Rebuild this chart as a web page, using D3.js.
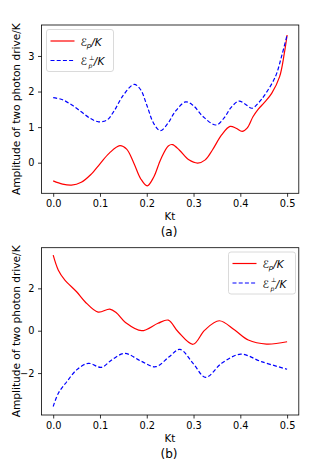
<!DOCTYPE html>
<html lang="en">
<head>
<meta charset="utf-8">
<title>Amplitude of two photon drive</title>
<script src="https://d3js.org/d3.v7.min.js"></script>
<style>
  body { margin: 0; background: #fff; }
  text { font-family: "DejaVu Sans", sans-serif; }
</style>
</head>
<body>
<div id="chart"></div>
<script>

// Kt values and curves, panel (a)
var ktA_par  = [0, 0.02, 0.039, 0.06, 0.08, 0.1, 0.12, 0.1425, 0.157, 0.172, 0.187, 0.201, 0.215, 0.23, 0.246, 0.255, 0.27, 0.29, 0.309, 0.325, 0.34, 0.36, 0.378, 0.391, 0.404, 0.415, 0.427, 0.438, 0.452, 0.467, 0.484, 0.494, 0.5];
var epsA_par = [-0.51, -0.6, -0.63, -0.55, -0.34, -0.03, 0.27, 0.48, 0.38, 0.0, -0.45, -0.65, -0.4, 0.1, 0.47, 0.51, 0.35, 0.08, -0.01, 0.08, 0.35, 0.78, 1.02, 0.97, 0.88, 0.98, 1.29, 1.5, 1.7, 1.95, 2.42, 3.07, 3.59];

var ktA_perp  = [0, 0.02, 0.04, 0.06, 0.08, 0.097, 0.115, 0.13, 0.15, 0.173, 0.187, 0.2, 0.215, 0.229, 0.245, 0.26, 0.283, 0.3, 0.32, 0.348, 0.365, 0.38, 0.397, 0.41, 0.425, 0.44, 0.452, 0.475, 0.488, 0.5];
var epsA_perp = [1.83, 1.77, 1.62, 1.43, 1.24, 1.15, 1.2, 1.45, 1.9, 2.2, 2.05, 1.62, 1.1, 0.9, 1.1, 1.42, 1.71, 1.6, 1.3, 1.06, 1.25, 1.55, 1.73, 1.65, 1.53, 1.7, 1.9, 2.42, 2.98, 3.59];

// panel (b)
var ktB_par  = [0, 0.011, 0.025, 0.05, 0.068, 0.096, 0.121, 0.135, 0.155, 0.189, 0.224, 0.246, 0.267, 0.299, 0.324, 0.355, 0.388, 0.417, 0.456, 0.5];
var epsB_par = [3.57, 2.86, 2.39, 1.84, 1.37, 0.88, 1.02, 0.85, 0.38, 0.0, 0.35, 0.5, -0.05, -0.64, 0.03, 0.47, 0.03, -0.44, -0.63, -0.52];

var ktB_perp  = [0, 0.011, 0.029, 0.05, 0.075, 0.103, 0.125, 0.153, 0.187, 0.219, 0.248, 0.271, 0.299, 0.326, 0.36, 0.401, 0.445, 0.5];
var epsB_perp = [-3.58, -2.95, -2.41, -1.85, -1.54, -1.73, -1.38, -1.07, -1.43, -1.7, -1.23, -0.88, -1.54, -2.2, -1.54, -1.11, -1.46, -1.82];

var xTicks  = [0, 0.1, 0.2, 0.3, 0.4, 0.5];
var yTicksA = [0, 1, 2, 3];
var yTicksB = [-2, 0, 2];

var svg = d3.select("#chart").append("svg")
  .attr("width", 332)
  .attr("height", 461);

function zip(xs, ys) {
  return xs.map(function (k, i) { return [k, ys[i]]; });
}

function panel(opt) {
  var x = d3.scaleLinear().domain([-0.025, 0.525]).range([41.5, 298.8]);
  var y = d3.scaleLinear().domain(opt.ydomain).range([opt.bottom, opt.top]);

  var g = svg.append("g");

  // x axis
  g.append("g")
    .attr("transform", "translate(0," + opt.bottom + ")")
    .call(d3.axisBottom(x).tickValues(xTicks).tickFormat(d3.format(".1f"))
      .tickSize(3.5).tickPadding(3.5).tickSizeOuter(0))
    .call(style);

  // y axis
  g.append("g")
    .attr("transform", "translate(41.5,0)")
    .call(d3.axisLeft(y).tickValues(opt.yticks).tickFormat(d3.format("d"))
      .tickSize(3.5).tickPadding(3.5).tickSizeOuter(0))
    .call(style);

  // frame
  g.append("rect")
    .attr("x", 41.5).attr("y", opt.top)
    .attr("width", 298.8 - 41.5).attr("height", opt.bottom - opt.top)
    .attr("fill", "none").attr("stroke", "#000").attr("stroke-width", 0.8);

  var line = d3.line()
    .x(function (d) { return x(d[0]); })
    .y(function (d) { return y(d[1]); })
    .curve(d3.curveCatmullRom.alpha(0.5));

  g.append("path")
    .datum(zip(opt.ktPar, opt.par))
    .attr("d", line)
    .attr("fill", "none").attr("stroke", "red").attr("stroke-width", 1.2);

  g.append("path")
    .datum(zip(opt.ktPerp, opt.perp))
    .attr("d", line)
    .attr("fill", "none").attr("stroke", "blue").attr("stroke-width", 1.2)
    .attr("stroke-dasharray", "4,2.2");

  // axis labels
  g.append("text")
    .attr("x", 170).attr("y", opt.bottom + 27)
    .attr("text-anchor", "middle").attr("font-size", 10.3)
    .text("Kt");

  g.append("text")
    .attr("transform", "translate(20," + (opt.top + opt.bottom) / 2 + ") rotate(-90)")
    .attr("text-anchor", "middle").attr("font-size", 10.6)
    .text("Amplitude of two photon drive/K");

  g.append("text")
    .attr("x", 169).attr("y", opt.bottom + 42.5)
    .attr("text-anchor", "middle").attr("font-size", 12)
    .text(opt.caption);

  // legend
  var lg = g.append("g").attr("transform", "translate(" + opt.legend[0] + "," + opt.legend[1] + ")");
  lg.append("rect")
    .attr("x", 0).attr("y", 0).attr("width", 67).attr("height", 42).attr("rx", 2.5)
    .attr("fill", "#fff").attr("fill-opacity", 0.8)
    .attr("stroke", "#d0d0d0").attr("stroke-width", 0.8);

  lg.append("line").attr("x1", 4).attr("x2", 28).attr("y1", 11.5).attr("y2", 11.5)
    .attr("stroke", "red").attr("stroke-width", 1.2);
  lg.append("line").attr("x1", 4).attr("x2", 28).attr("y1", 31).attr("y2", 31)
    .attr("stroke", "blue").attr("stroke-width", 1.2).attr("stroke-dasharray", "4,2.2");

  var t1 = lg.append("text").attr("x", 34).attr("y", 16).attr("font-size", 10.5).attr("font-style", "italic");
  t1.append("tspan").text("\u2130");
  t1.append("tspan").attr("font-size", 7).attr("dy", 2).text("p");
  t1.append("tspan").attr("dy", -2).text("/K");

  // stacked super/subscript drawn as separate texts so they do not collide
  var t2 = lg.append("text").attr("x", 34).attr("y", 35.5).attr("font-size", 10.5).attr("font-style", "italic");
  t2.append("tspan").text("\u2130");
  t2.append("tspan").attr("dx", 7).text("/K");
  lg.append("text").attr("x", 42.5).attr("y", 30.2).attr("font-size", 6.2).text("\u22a5");
  lg.append("text").attr("x", 42).attr("y", 38.6).attr("font-size", 6.2).attr("font-style", "italic").text("p");
}

function style(sel) {
  sel.select(".domain").remove();
  sel.selectAll(".tick line").attr("stroke", "#000").attr("stroke-width", 0.8);
  sel.selectAll(".tick text").attr("font-size", 9.8).attr("fill", "#000")
    .attr("font-family", "DejaVu Sans");
}

panel({
  top: 25, bottom: 193.3, ydomain: [-0.86, 3.87], yticks: yTicksA,
  ktPar: ktA_par, par: epsA_par, ktPerp: ktA_perp, perp: epsA_perp,
  legend: [46.5, 29.5], caption: "(a)"
});

panel({
  top: 247.7, bottom: 415, ydomain: [-3.98, 3.92], yticks: yTicksB,
  ktPar: ktB_par, par: epsB_par, ktPerp: ktB_perp, perp: epsB_perp,
  legend: [228.5, 252], caption: "(b)"
});

</script>
</body>
</html>
